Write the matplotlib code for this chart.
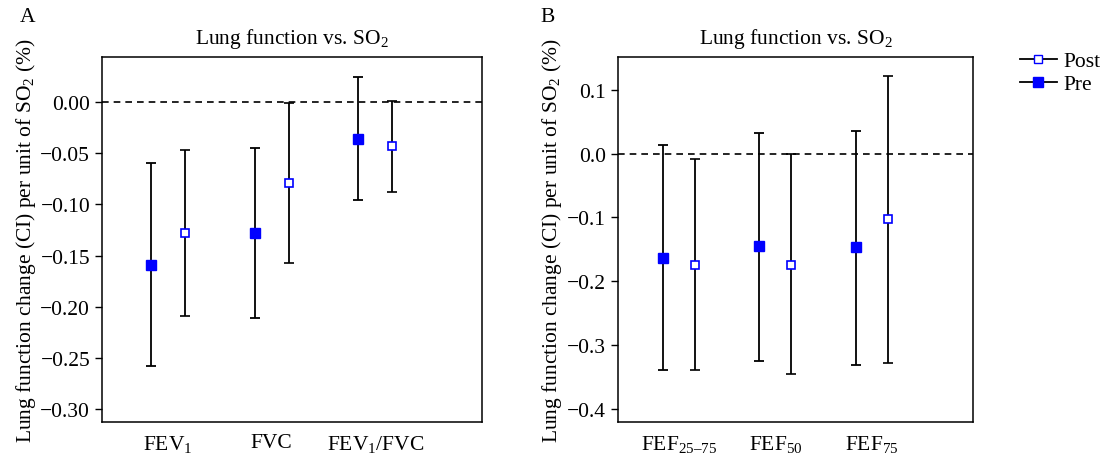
import numpy as np
import matplotlib
matplotlib.use("Agg")
import matplotlib.pyplot as plt
from matplotlib.lines import Line2D
from matplotlib.ticker import FormatStrFormatter

plt.rcParams['font.family'] = ['Liberation Serif', 'DejaVu Serif']
plt.rcParams['mathtext.fontset'] = 'custom'
plt.rcParams['mathtext.rm'] = 'Liberation Serif'
plt.rcParams['mathtext.it'] = 'Liberation Serif:italic'
plt.rcParams['font.size'] = 15.5

# Panel A data
labels_a = ["FEV$_1$", "FVC", "FEV$_1$/FVC"]
pre_a = [-0.159, -0.128, -0.036]
pre_a_lo = [-0.258, -0.211, -0.096]
pre_a_hi = [-0.060, -0.045, 0.025]
post_a = [-0.128, -0.079, -0.043]
post_a_lo = [-0.209, -0.157, -0.088]
post_a_hi = [-0.047, -0.001, 0.001]

# Panel B data
labels_b = ["FEF$_{25\u201375}$", "FEF$_{50}$", "FEF$_{75}$"]
pre_b = [-0.163, -0.145, -0.147]
pre_b_lo = [-0.340, -0.325, -0.331]
pre_b_hi = [0.013, 0.033, 0.036]
post_b = [-0.175, -0.174, -0.103]
post_b_lo = [-0.340, -0.346, -0.329]
post_b_hi = [-0.008, -0.001, 0.122]

blue = "#0000ff"
offset = 0.165
fs = 15.5
ylabel = "Lung function change (CI) per unit of SO$_2$ (%)"
title = "Lung function vs. SO$_2$"


def draw_panel(ax, labels, pre, pre_lo, pre_hi, post, post_lo, post_hi):
    x = np.arange(1, len(labels) + 1)
    pre = np.array(pre)
    post = np.array(post)
    err_pre = [pre - np.array(pre_lo), np.array(pre_hi) - pre]
    err_post = [post - np.array(post_lo), np.array(post_hi) - post]
    ax.axhline(0, color="black", ls=(0, (4, 3)), lw=1.2, zorder=1)
    ax.errorbar(x - offset, pre, yerr=err_pre, fmt="s", color="black", ecolor="black",
                elinewidth=1.3, capsize=3.3, capthick=1.3, mfc=blue, mec=blue, ms=7, zorder=3)
    ax.errorbar(x + offset, post, yerr=err_post, fmt="s", color="black", ecolor="black",
                elinewidth=1.3, capsize=3.3, capthick=1.3, mfc="white", mec=blue, mew=1.2,
                ms=6, zorder=3)
    ax.set_xticks(x)
    ax.set_xticklabels(labels, fontsize=fs)
    ax.tick_params(axis="x", length=0, pad=8)
    ax.tick_params(axis="y", length=5, width=1, direction="out", labelsize=fs)
    for s in ax.spines.values():
        s.set_linewidth(1.1)
    ax.set_title(title, fontsize=fs, pad=10)
    ax.set_ylabel(ylabel, fontsize=fs, labelpad=2)


fig = plt.figure(figsize=(11, 4.56), dpi=100)
ax1 = fig.add_axes([102 / 1100, 1 - 423 / 456, 380 / 1100, 365 / 456])
ax2 = fig.add_axes([618 / 1100, 1 - 423 / 456, 355 / 1100, 365 / 456])

draw_panel(ax1, labels_a, pre_a, pre_a_lo, pre_a_hi, post_a, post_a_lo, post_a_hi)
ax1.set_xlim(0.362, 4.03)
ax1.set_ylim(-0.3127, 0.0441)
ax1.set_yticks([0.0, -0.05, -0.10, -0.15, -0.20, -0.25, -0.30])
ax1.yaxis.set_major_formatter(FormatStrFormatter("%.2f"))

draw_panel(ax2, labels_b, pre_b, pre_b_lo, pre_b_hi, post_b, post_b_lo, post_b_hi)
ax2.set_xlim(0.368, 4.05)
ax2.set_ylim(-0.421, 0.1516)
ax2.set_yticks([0.1, 0.0, -0.1, -0.2, -0.3, -0.4])
ax2.yaxis.set_major_formatter(FormatStrFormatter("%.1f"))

# fix minus sign in formatted tick labels
for ax in (ax1, ax2):
    ax.set_yticklabels([t.get_text().replace("-", "\u2212") for t in ax.get_yticklabels()])

handles = [Line2D([], [], color="black", marker="s", mfc="white", mec=blue, ms=6, lw=1.3),
           Line2D([], [], color="black", marker="s", mfc=blue, mec=blue, ms=7, lw=1.3)]
fig.legend(handles, ["Post", "Pre"], loc="upper left", bbox_to_anchor=(1020 / 1100, 1 - 52 / 456),
           frameon=False, fontsize=fs, handlelength=1.7, handletextpad=0.3,
           labelspacing=0.15, borderpad=0, borderaxespad=0)

fig.text(20 / 1100, 1 - 18 / 456, "A", fontsize=fs, va="center", ha="left")
fig.text(540 / 1100, 1 - 18 / 456, "B", fontsize=fs, va="center", ha="left")

fig.savefig("out.png", dpi=100)
